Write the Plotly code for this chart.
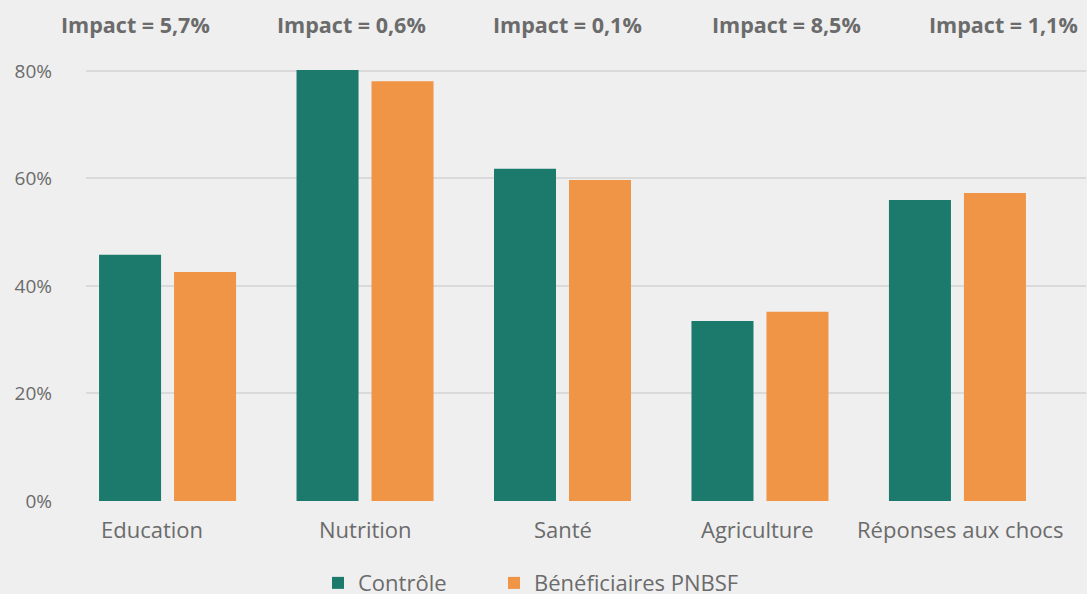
import plotly.graph_objects as go

# Share of households (%) by domain, control vs PNBSF beneficiaries
categories = ["Education", "Nutrition", "Santé", "Agriculture", "Réponses aux chocs"]
controle = [45.8, 80.2, 61.8, 33.5, 56.0]
beneficiaires = [42.6, 78.1, 59.7, 35.2, 57.3]
impacts = ["Impact = 5,7%", "Impact = 0,6%", "Impact = 0,1%", "Impact = 8,5%", "Impact = 1,1%"]
y_ticks = [0, 20, 40, 60, 80]

TEAL = "#1c7a6c"
ORANGE = "#f09446"
GREY_TXT = "#6b6b6b"
BG = "#efefef"
FONT = "Open Sans"

fig = go.Figure()
fig.add_trace(go.Bar(x=categories, y=controle, name="Contrôle", legend="legend",
                     showlegend=True, marker=dict(color=TEAL, line=dict(width=0))))
fig.add_trace(go.Bar(x=categories, y=beneficiaires, name="Bénéficiaires PNBSF", legend="legend2",
                     showlegend=True, marker=dict(color=ORANGE, line=dict(width=0))))

annotations = []
# category labels under the axis
label_shift = [-16, 0, 0, -2, 3]
for cat, dx in zip(categories, label_shift):
    annotations.append(dict(x=cat, y=0, xref="x", yref="y", text=cat, showarrow=False,
                            xanchor="center", yanchor="middle", yshift=-28, xshift=dx,
                            font=dict(family=FONT, size=22, color=GREY_TXT)))
# impact headline row
impact_x = [-0.024, 0.192, 0.408, 0.627, 0.844]
for txt, px in zip(impacts, impact_x):
    annotations.append(dict(x=px, y=1.0576, xref="paper", yref="paper", text=f"<b>{txt}</b>",
                            showarrow=False, xanchor="left", yanchor="middle", xshift=-3,
                            font=dict(family=FONT, size=21.5, color=GREY_TXT)))

legend_style = dict(orientation="h", xanchor="left", y=-0.182, yanchor="middle",
                    font=dict(family=FONT, size=22, color=GREY_TXT),
                    bgcolor="rgba(0,0,0,0)", visible=True)

fig.update_layout(
    width=1087, height=594,
    paper_bgcolor=BG, plot_bgcolor=BG,
    showlegend=True,
    margin=dict(l=86, r=1, t=50, b=93, autoexpand=False),
    barmode="group", bargap=0.2405, bargroupgap=0.173,
    font=dict(family=FONT, color=GREY_TXT),
    xaxis=dict(range=[-0.413, 4.651], showticklabels=False, showgrid=False,
               zeroline=False, showline=False, ticks=""),
    yaxis=dict(range=[0, 83.9], tickvals=y_ticks, ticktext=[f"{v}%" for v in y_ticks],
               showgrid=True, gridcolor="#dadada", gridwidth=2, zeroline=False,
               showline=False, ticks="", ticklabelstandoff=33,
               tickfont=dict(family=FONT, size=19, color=GREY_TXT)),
    legend=dict(x=0.232, **legend_style),
    legend2=dict(x=0.408, **legend_style),
    annotations=annotations,
)

fig.write_html("out.html")
